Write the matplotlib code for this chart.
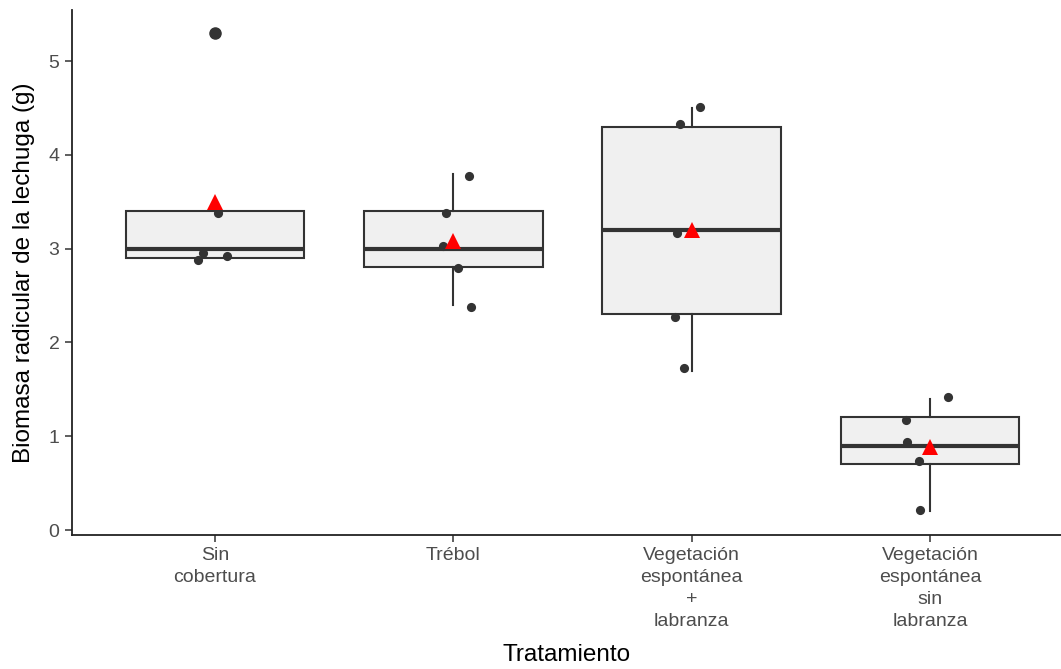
import matplotlib
matplotlib.use('Agg')
import matplotlib.pyplot as plt

plt.rcParams['font.family'] = ['Liberation Sans', 'DejaVu Sans']

categories = ["Sin\ncobertura", "Trébol",
              "Vegetación\nespontánea\n+\nlabranza",
              "Vegetación\nespontánea\nsin\nlabranza"]
q1 = [2.9, 2.8, 2.3, 0.7]
med = [3.0, 3.0, 3.2, 0.9]
q3 = [3.4, 3.4, 4.3, 1.2]
whislo = [2.9, 2.4, 1.7, 0.2]
whishi = [3.4, 3.8, 4.5, 1.4]
fliers = [[5.3], [], [], []]
means = [3.5, 3.08, 3.2, 0.88]
# jittered observations (value, horizontal jitter)
obs_y = [[5.3, 3.38, 2.95, 2.88, 2.92],
         [3.77, 3.38, 3.03, 2.79, 2.38],
         [4.51, 4.33, 3.17, 2.27, 1.73],
         [1.42, 1.17, 0.94, 0.74, 0.21]]
obs_dx = [[0.004, 0.013, -0.05, -0.07, 0.05],
          [0.067, -0.03, -0.042, 0.021, 0.076],
          [0.034, -0.05, -0.063, -0.071, -0.034],
          [0.076, -0.10, -0.097, -0.046, -0.042]]

dark = '#333333'
fig = plt.figure(figsize=(10.61, 6.69), dpi=100)
ax = fig.add_axes([72/1061, 1-535/669, 1-72/1061, (535-10)/669])

positions = list(range(1, len(categories)+1))
stats = []
for i in range(len(categories)):
    stats.append(dict(med=med[i], q1=q1[i], q3=q3[i], whislo=whislo[i],
                      whishi=whishi[i], fliers=fliers[i]))
ax.bxp(stats, positions=positions, widths=0.75, showcaps=False,
       patch_artist=True,
       boxprops=dict(facecolor='#f0f0f0', edgecolor=dark, linewidth=1.5),
       medianprops=dict(color=dark, linewidth=3),
       whiskerprops=dict(color=dark, linewidth=1.5),
       flierprops=dict(marker='o', markerfacecolor=dark, markeredgecolor=dark,
                       markersize=8))

for i, p in enumerate(positions):
    xs = [p + d for d in obs_dx[i]]
    ax.plot(xs, obs_y[i], 'o', color=dark, markersize=6.6, zorder=4,
            markeredgewidth=0)
ax.plot(positions, means, '^', color='red', markersize=11, zorder=5,
        markeredgewidth=0)

ax.set_xlim(0.4, 4.55)
ax.set_ylim(-0.053, 5.544)
ax.set_yticks([0, 1, 2, 3, 4, 5])
ax.set_xticks(positions)
ax.set_xticklabels(categories, linespacing=1.38)
for s in ['top', 'right']:
    ax.spines[s].set_visible(False)
for s in ['left', 'bottom']:
    ax.spines[s].set_linewidth(1.3)
    ax.spines[s].set_color('#222222')
ax.tick_params(axis='both', length=5, width=1.1, color='#333333',
               labelsize=14, labelcolor='#4d4d4d', pad=4)
ax.set_xlabel('Tratamiento', fontsize=17.5, color='black', labelpad=10)
ax.set_ylabel('Biomasa radicular de la lechuga (g)', fontsize=17.5,
              color='black', labelpad=10)

fig.savefig('out.png', dpi=100)
